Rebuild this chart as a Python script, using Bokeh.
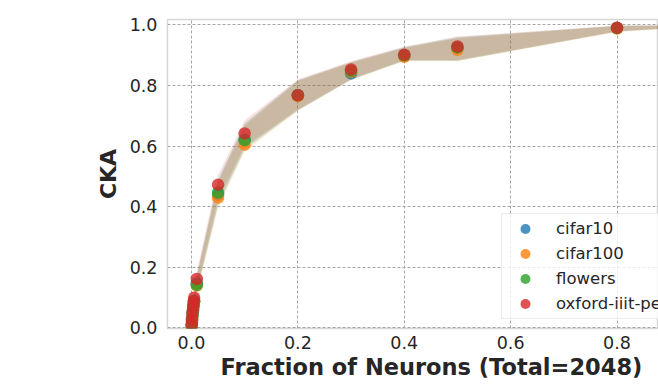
from bokeh.plotting import figure
from bokeh.models import Legend, LegendItem, FixedTicker, NumeralTickFormatter, Title
from bokeh.embed import file_html
from bokeh.resources import INLINE

# ---- data ----
fractions = [0.0005, 0.001, 0.002, 0.003, 0.004, 0.005, 0.01, 0.05, 0.1, 0.2, 0.3, 0.4, 0.5, 0.8, 1.0]

series_names = ["cifar10", "cifar100", "flowers", "oxford-iiit-pet"]

cifar10_cka = [0.010, 0.028, 0.048, 0.064, 0.078, 0.090, 0.148, 0.440, 0.620, 0.768, 0.840, 0.898, 0.925, 0.990, 1.000]
cifar100_cka = [0.008, 0.024, 0.044, 0.060, 0.074, 0.086, 0.140, 0.430, 0.605, 0.765, 0.845, 0.895, 0.918, 0.988, 1.000]
flowers_cka = [0.005, 0.020, 0.040, 0.058, 0.074, 0.088, 0.142, 0.447, 0.620, 0.768, 0.848, 0.900, 0.926, 0.990, 1.000]
oxford_cka = [0.012, 0.030, 0.052, 0.070, 0.086, 0.100, 0.162, 0.473, 0.642, 0.768, 0.853, 0.902, 0.929, 0.991, 1.000]

cifar10_lo = [0.000, 0.012, 0.030, 0.045, 0.058, 0.068, 0.122, 0.405, 0.590, 0.718, 0.818, 0.882, 0.882, 0.978, 1.000]
cifar10_hi = [0.020, 0.044, 0.066, 0.083, 0.098, 0.112, 0.175, 0.485, 0.672, 0.816, 0.875, 0.925, 0.958, 0.997, 1.000]
cifar100_lo = [0.000, 0.010, 0.027, 0.042, 0.055, 0.065, 0.115, 0.395, 0.582, 0.716, 0.818, 0.880, 0.880, 0.976, 1.000]
cifar100_hi = [0.018, 0.040, 0.062, 0.080, 0.095, 0.108, 0.170, 0.478, 0.665, 0.814, 0.876, 0.924, 0.955, 0.997, 1.000]
flowers_lo = [0.000, 0.008, 0.025, 0.042, 0.056, 0.068, 0.118, 0.408, 0.592, 0.720, 0.820, 0.883, 0.882, 0.978, 1.000]
flowers_hi = [0.016, 0.040, 0.062, 0.080, 0.096, 0.110, 0.172, 0.490, 0.675, 0.818, 0.878, 0.927, 0.960, 0.997, 1.000]
oxford_lo = [0.000, 0.014, 0.034, 0.050, 0.064, 0.076, 0.128, 0.425, 0.600, 0.720, 0.822, 0.884, 0.884, 0.979, 1.000]
oxford_hi = [0.024, 0.048, 0.072, 0.090, 0.106, 0.120, 0.185, 0.505, 0.685, 0.820, 0.880, 0.928, 0.962, 0.997, 1.000]

x_ticks = [0.0, 0.2, 0.4, 0.6, 0.8, 1.0]
y_ticks = [0.0, 0.2, 0.4, 0.6, 0.8, 1.0]

x_label = "Fraction of Neurons (Total=2048)"
y_label = "CKA"

colors = ["#1f77b4", "#ff7f0e", "#2ca02c", "#d62728"]

values = [cifar10_cka, cifar100_cka, flowers_cka, oxford_cka]
lows = [cifar10_lo, cifar100_lo, flowers_lo, oxford_lo]
highs = [cifar10_hi, cifar100_hi, flowers_hi, oxford_hi]

FONT = "DejaVu Sans"
TXT = "#262626"

p = figure(width=658, height=380, output_backend="svg", toolbar_location=None,
           x_range=(-0.0451, 0.878), y_range=(-0.0017, 1.018),
           min_border_left=167, min_border_right=0, min_border_top=19, min_border_bottom=52)

p.background_fill_color = "white"
p.border_fill_color = "white"
p.outline_line_color = "#d6d6d6"
p.outline_line_width = 1.5

# confidence bands
for c, lo, hi in zip(colors, lows, highs):
    p.varea(x=fractions, y1=lo, y2=hi, fill_color=c, fill_alpha=0.15)

# markers
renderers = []
for c, v in zip(colors, values):
    r = p.scatter(x=fractions, y=v, size=12.5, fill_color=c, fill_alpha=0.8,
                  line_color=None)
    renderers.append(r)

# axes
for ax in (p.xaxis[0], p.yaxis[0]):
    ax.axis_line_color = None
    ax.major_tick_line_color = None
    ax.minor_tick_line_color = None
    ax.major_tick_in = 0
    ax.major_tick_out = 0
    ax.minor_tick_in = 0
    ax.minor_tick_out = 0
    ax.major_label_text_font = FONT
    ax.major_label_text_font_size = "17.5px"
    ax.major_label_text_color = TXT
    ax.axis_label_text_font = FONT
    ax.axis_label_text_font_size = "22px"
    ax.axis_label_text_font_style = "bold"
    ax.axis_label_text_color = TXT
    ax.formatter = NumeralTickFormatter(format="0.0")

p.xaxis[0].ticker = FixedTicker(ticks=x_ticks)
p.yaxis[0].ticker = FixedTicker(ticks=y_ticks)
p.yaxis[0].axis_label = y_label
p.xaxis[0].major_label_standoff = 7
p.yaxis[0].major_label_standoff = 10
p.yaxis[0].axis_label_standoff = 6

# x-axis title, placed where the reference has it
p.add_layout(Title(text=x_label, align="left", offset=53, standoff=0,
                   text_font=FONT, text_font_size="22.5px", text_font_style="bold",
                   text_color=TXT), "below")

for g in (p.xgrid[0], p.ygrid[0]):
    g.grid_line_color = "#a6a6a6"
    g.grid_line_dash = "3 2"
    g.grid_line_width = 1
p.xgrid[0].ticker = FixedTicker(ticks=x_ticks)
p.ygrid[0].ticker = FixedTicker(ticks=y_ticks)

legend = Legend(
    items=[LegendItem(label=n, renderers=[r]) for n, r in zip(series_names, renderers)],
    location=(334, 9),
    orientation="vertical",
    label_text_font=FONT,
    label_text_font_size="16.5px",
    label_text_color=TXT,
    glyph_height=25,
    glyph_width=42,
    label_height=25,
    label_standoff=10,
    spacing=0,
    padding=2,
    margin=0,
    border_line_color="#d9d9d9",
    border_line_width=1,
    background_fill_color="white",
    background_fill_alpha=0.8,
)
p.add_layout(legend)

open("out.html", "w").write(file_html(p, INLINE))
